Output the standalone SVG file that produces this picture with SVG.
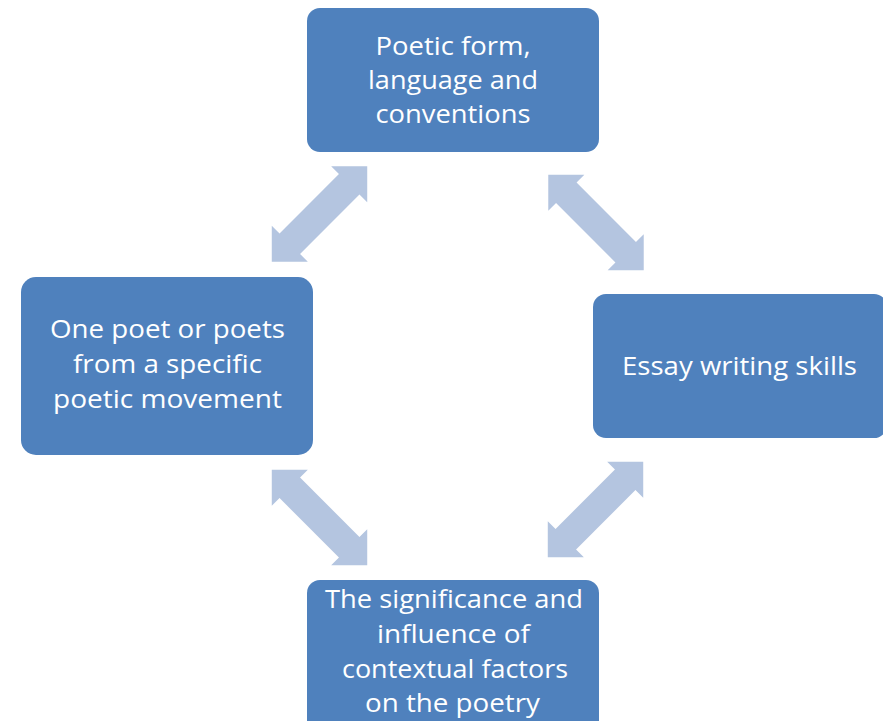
<svg xmlns="http://www.w3.org/2000/svg" xmlns:xlink="http://www.w3.org/1999/xlink" width="883" height="721" viewBox="0 0 883 721">
  <style>
    .box { fill: #4F81BD; }
    .lbl { fill: #FFFFFF; font-family: "Open Sans", "Noto Sans", "Liberation Sans", sans-serif; font-size: 26px; text-anchor: middle; }
    .arr { fill: #B4C5E0; }
  </style>
  <defs>
    <path id="dblarrow" d="M -67.5,0 L -42,-25.5 L -42,-14.5 L 42,-14.5 L 42,-25.5 L 67.5,0 L 42,25.5 L 42,14.5 L -42,14.5 L -42,25.5 Z"/>
  </defs>
  <rect width="883" height="721" fill="#FFFFFF"/>
  <g id="connectors">
    <use xlink:href="#dblarrow" href="#dblarrow" class="arr" transform="translate(319.5,214) rotate(-45)"/>
    <use xlink:href="#dblarrow" href="#dblarrow" class="arr" transform="translate(596,222.5) rotate(45)"/>
    <use xlink:href="#dblarrow" href="#dblarrow" class="arr" transform="translate(319.5,517.5) rotate(45)"/>
    <use xlink:href="#dblarrow" href="#dblarrow" class="arr" transform="translate(595.5,509.5) rotate(-45)"/>
  </g>
  <g id="node-top">
    <rect class="box" x="307" y="8" width="292" height="144" rx="13"/>
    <text class="lbl" x="453" y="55" textLength="155" lengthAdjust="spacingAndGlyphs">Poetic form,</text>
    <text class="lbl" x="453" y="89" textLength="170" lengthAdjust="spacingAndGlyphs">language and</text>
    <text class="lbl" x="453" y="123" textLength="155" lengthAdjust="spacingAndGlyphs">conventions</text>
  </g>
  <g id="node-right">
    <rect class="box" x="593" y="294" width="294" height="144" rx="13"/>
    <text class="lbl" x="739.5" y="375" textLength="235" lengthAdjust="spacingAndGlyphs">Essay writing skills</text>
  </g>
  <g id="node-left">
    <rect class="box" x="21" y="277" width="292" height="178" rx="15"/>
    <text class="lbl" x="167.5" y="338" textLength="235" lengthAdjust="spacingAndGlyphs">One poet or poets</text>
    <text class="lbl" x="167.5" y="373" textLength="189" lengthAdjust="spacingAndGlyphs">from a specific</text>
    <text class="lbl" x="167.5" y="408" textLength="229" lengthAdjust="spacingAndGlyphs">poetic movement</text>
  </g>
  <g id="node-bottom">
    <rect class="box" x="307" y="580" width="292" height="170" rx="13"/>
    <text class="lbl" x="454" y="608" textLength="258" lengthAdjust="spacingAndGlyphs">The significance and</text>
    <text class="lbl" x="453.5" y="643" textLength="153" lengthAdjust="spacingAndGlyphs">influence of</text>
    <text class="lbl" x="455" y="678" textLength="226" lengthAdjust="spacingAndGlyphs">contextual factors</text>
    <text class="lbl" x="452.5" y="712" textLength="175" lengthAdjust="spacingAndGlyphs">on the poetry</text>
  </g>
</svg>
